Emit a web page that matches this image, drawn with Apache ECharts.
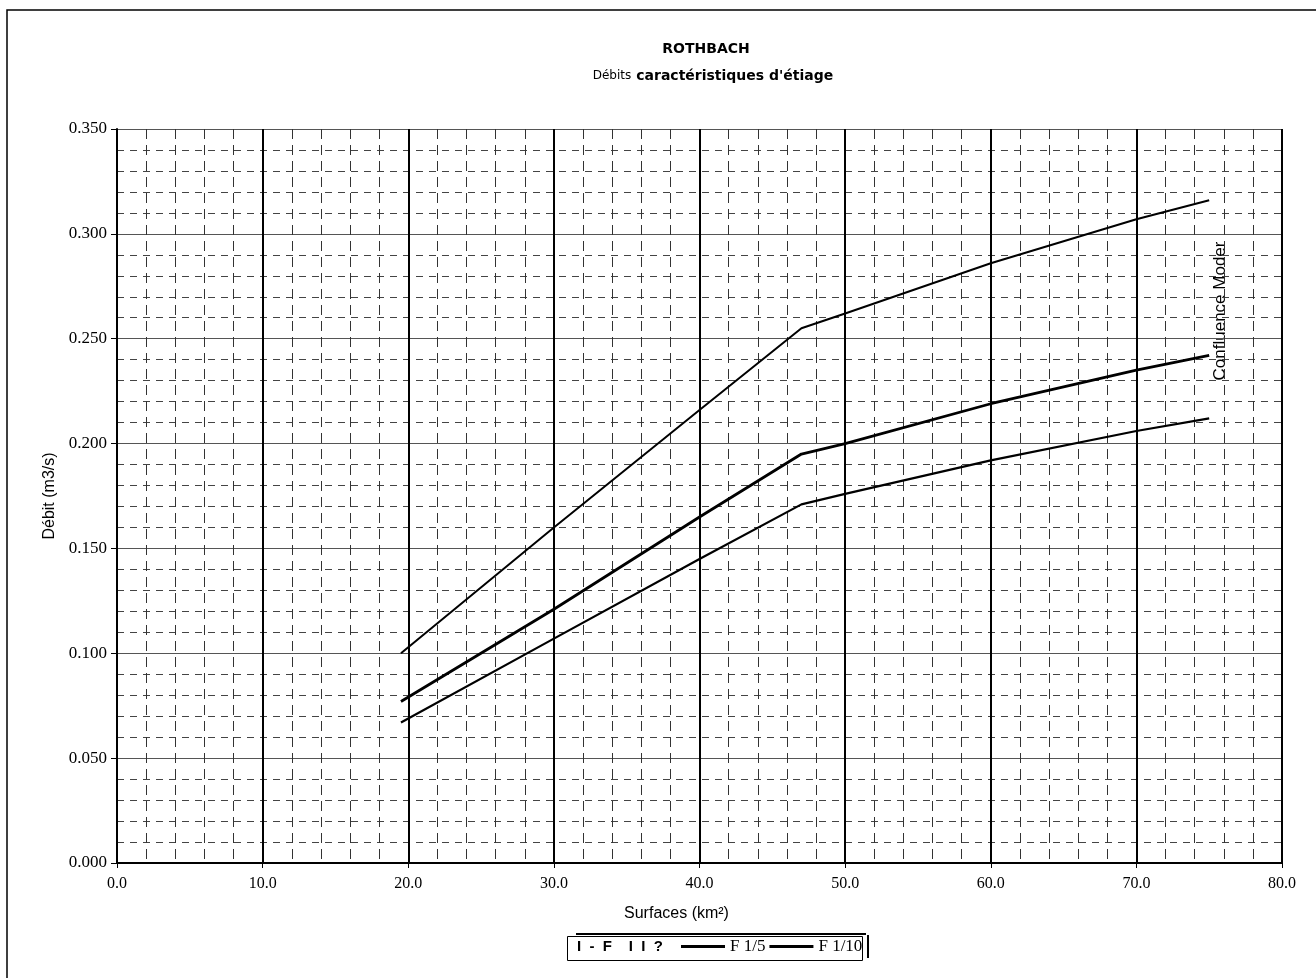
<!DOCTYPE html>
<html>
<head>
<meta charset="utf-8">
<title>ROTHBACH</title>
<script src="https://cdn.jsdelivr.net/npm/echarts@6/dist/echarts.min.js"></script>
<style>
  html, body { margin: 0; padding: 0; background: #fff; }
  #main { width: 1316px; height: 978px; }
</style>
</head>
<body>
<div id="main"></div>
<script>
// surfaces du bassin (km2) et débits (m3/s)
var surfaces = [19.5, 30, 40, 47, 50, 60, 70, 75];
var debitHaut = [0.100, 0.160, 0.216, 0.255, 0.262, 0.286, 0.307, 0.316];
var debitF5 = [0.077, 0.121, 0.165, 0.195, 0.200, 0.219, 0.235, 0.242];
var debitF10 = [0.067, 0.107, 0.145, 0.171, 0.176, 0.192, 0.206, 0.212];
var nomsSeries = ['I  -  F    I  I  ?', 'F 1/5', 'F 1/10'];

function paires(xs, ys) {
  return xs.map(function (x, i) { return [x, ys[i]]; });
}

var chart = echarts.init(document.getElementById('main'));

var serif = '"Liberation Serif", "DejaVu Serif", serif';
var sans = '"Liberation Sans", Arial, sans-serif';
var large = '"DejaVu Sans", sans-serif';

var option = {
  backgroundColor: '#fff',
  animation: false,
  title: [
    {
      text: 'ROTHBACH',
      left: 701,
      textAlign: 'center',
      top: 37,
      textStyle: { fontFamily: large, fontSize: 14, fontWeight: 'bold', color: '#000' }
    },
    {
      text: '{a|Débits} {b|caractéristiques d\'étiage}',
      left: 708,
      textAlign: 'center',
      top: 62,
      textStyle: {
        rich: {
          a: { fontFamily: large, fontSize: 12, fontWeight: 'normal', color: '#000' },
          b: { fontFamily: large, fontSize: 14, fontWeight: 'bold', color: '#000' }
        }
      }
    }
  ],
  grid: { left: 117, right: 34, top: 129, bottom: 115 },
  xAxis: {
    type: 'value',
    min: 0, max: 80, interval: 10,
    name: 'Surfaces (km²)',
    nameLocation: 'middle',
    nameGap: 43,
    nameTextStyle: { fontFamily: sans, fontSize: 16, color: '#000', padding: [0, 46, 0, 0] },
    axisLine: { show: true, onZero: false, lineStyle: { color: '#000', width: 2 } },
    axisTick: { show: true, length: 5, lineStyle: { color: '#000' } },
    axisLabel: {
      fontFamily: serif, fontSize: 16, color: '#000', margin: 13,
      formatter: function (v) { return v.toFixed(1); }
    },
    splitLine: { show: true, lineStyle: { color: '#000', width: 2 } },
    minorTick: { show: false, splitNumber: 5 },
    minorSplitLine: { show: true, lineStyle: { color: '#333', width: 1, type: [10, 6] } }
  },
  yAxis: {
    type: 'value',
    min: 0, max: 0.35, interval: 0.05,
    name: 'Débit (m3/s)',
    nameLocation: 'middle',
    nameGap: 58,
    nameTextStyle: { fontFamily: sans, fontSize: 16, color: '#000' },
    axisLine: { show: true, lineStyle: { color: '#000', width: 2 } },
    axisTick: { show: true, length: 6, lineStyle: { color: '#000' } },
    axisLabel: {
      fontFamily: serif, fontSize: 17, color: '#000', margin: 10,
      formatter: function (v) { return v.toFixed(3); }
    },
    splitLine: { show: true, lineStyle: { color: '#555', width: 1 } },
    minorTick: { show: false, splitNumber: 5 },
    minorSplitLine: { show: true, lineStyle: { color: '#444', width: 1, type: [7, 6] } }
  },
  legend: [
    {
      left: 572,
      top: 939,
      padding: 0,
      itemWidth: 0,
      itemGap: 0,
      data: [{ name: nomsSeries[0], icon: 'none' }],
      textStyle: { fontFamily: sans, fontSize: 15, fontWeight: 'bold', color: '#000', padding: [2, 0, 0, 0] }
    },
    {
      left: 681,
      top: 938,
      padding: 0,
      itemGap: 4,
      itemWidth: 44,
      itemHeight: 3,
      data: [
        { name: nomsSeries[1], icon: 'rect' },
        { name: nomsSeries[2], icon: 'rect' }
      ],
      textStyle: { fontFamily: serif, fontSize: 17, color: '#000' }
    }
  ],
  graphic: [
    {
      type: 'rect',
      shape: { x: 7, y: 10, width: 1320, height: 980 },
      style: { fill: 'none', stroke: '#000', lineWidth: 1.5 },
      silent: true
    },
    {
      type: 'line',
      shape: { x1: 1282, y1: 129, x2: 1282, y2: 863 },
      style: { stroke: '#000', lineWidth: 2 },
      silent: true
    },
    {
      type: 'rect',
      shape: { x: 567.5, y: 936.5, width: 295, height: 24 },
      style: { fill: 'none', stroke: '#000', lineWidth: 1 },
      silent: true
    },
    {
      type: 'line',
      shape: { x1: 576, y1: 934, x2: 866, y2: 934 },
      style: { stroke: '#000', lineWidth: 2 },
      silent: true
    },
    {
      type: 'line',
      shape: { x1: 868, y1: 935, x2: 868, y2: 958 },
      style: { stroke: '#000', lineWidth: 2 },
      silent: true
    },
    {
      type: 'text',
      x: 1220,
      y: 311,
      rotation: Math.PI / 2,
      style: {
        text: 'Confluence Moder',
        fontFamily: sans,
        fontSize: 17,
        fill: '#000',
        align: 'center',
        verticalAlign: 'middle'
      },
      silent: true
    }
  ],
  series: [
    {
      name: nomsSeries[0],
      type: 'line',
      data: paires(surfaces, debitHaut),
      showSymbol: false,
      lineStyle: { color: '#000', width: 2 },
      itemStyle: { color: '#000' }
    },
    {
      name: nomsSeries[1],
      type: 'line',
      data: paires(surfaces, debitF5),
      showSymbol: false,
      lineStyle: { color: '#000', width: 2.8 },
      itemStyle: { color: '#000' }
    },
    {
      name: nomsSeries[2],
      type: 'line',
      data: paires(surfaces, debitF10),
      showSymbol: false,
      lineStyle: { color: '#000', width: 2.2 },
      itemStyle: { color: '#000' }
    }
  ]
};

chart.setOption(option);
</script>
</body>
</html>
